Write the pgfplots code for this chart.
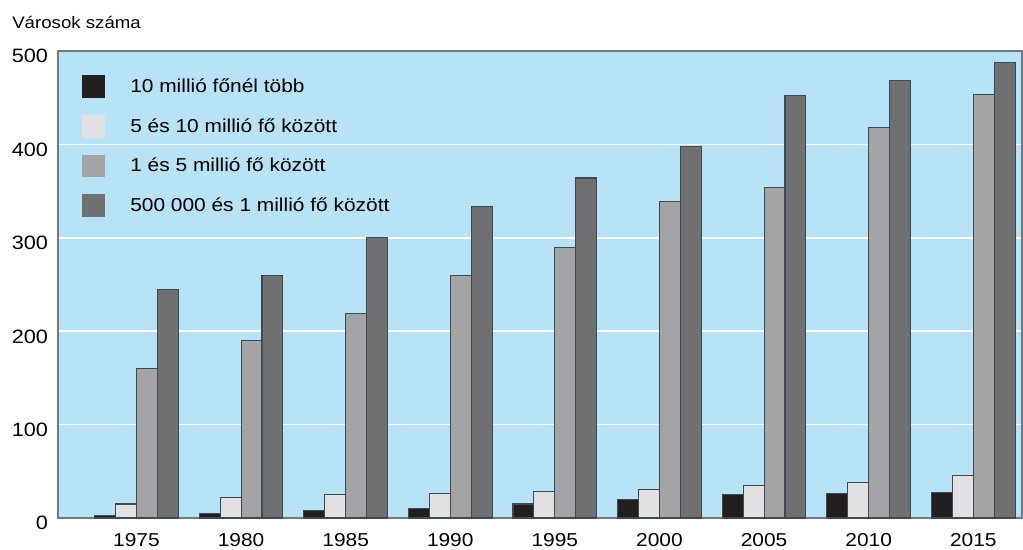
\documentclass[border=0pt]{standalone}
\usepackage{pgfplots}
\pgfplotsset{compat=1.18}
\usepackage{fontspec}
\setmainfont[FakeStretch=1.12]{Liberation Sans}
\usetikzlibrary{calc}

\definecolor{bgblue}{RGB}{184,226,246}
\definecolor{cblack}{RGB}{35,31,32}
\definecolor{cwhite}{RGB}{226,224,226}
\definecolor{clgray}{RGB}{164,164,167}
\definecolor{cdgray}{RGB}{112,112,115}
\definecolor{edge}{RGB}{60,74,84}
\definecolor{frame}{RGB}{110,122,130}

\begin{document}
\begin{tikzpicture}
\begin{axis}[
    name=ax,
    scale only axis,
    width=723pt, height=350.25pt,
    xmin=1971.25, xmax=2017.33,
    ymin=0, ymax=500,
    axis background/.style={fill=bgblue},
    axis line style={frame, line width=0.8pt},
    xtick={1975,1980,...,2015},
    ytick={0,100,...,500},
    major tick length=0pt,
    ymajorgrids,
    grid style={white, line width=1.2pt},
    xticklabel style={font=\fontsize{14}{16}\selectfont, yshift=-8pt},
    yticklabel style={font=\fontsize{14.5}{16}\selectfont, yshift=-4pt, xshift=-4pt},
    /pgf/number format/assume math mode=true,
    /pgf/number format/1000 sep={},
    ybar, bar width=1,
    legend style={at={(0,1)}, anchor=north west, xshift=18pt, yshift=-18pt,
        draw=none, fill=none, inner sep=0pt, row sep=12.8pt,
        font=\fontsize{14}{16}\selectfont,
        nodes={inner sep=0pt, anchor=west},
        /tikz/every odd column/.append style={column sep=19pt}},
    legend cell align=left,
    legend image code/.code={\fill[#1, draw=none] (0pt,-8.5pt) rectangle (17pt,8.5pt);},
    clip=false,
]
\addplot[fill=cblack, draw=edge, line width=0.8pt, bar shift=-1.5] coordinates {
(1975,3) (1980,5) (1985,8) (1990,10) (1995,15) (2000,20) (2005,25) (2010,26) (2015,27)};
\addplot[fill=cwhite, draw=edge, line width=0.8pt, bar shift=-0.5] coordinates {
(1975,15) (1980,22) (1985,25) (1990,26) (1995,28) (2000,30) (2005,35) (2010,38) (2015,45)};
\addplot[fill=clgray, draw=edge, line width=0.8pt, bar shift=0.5] coordinates {
(1975,160) (1980,190) (1985,219) (1990,260) (1995,290) (2000,339) (2005,354) (2010,418) (2015,453)};
\addplot[fill=cdgray, draw=edge, line width=0.8pt, bar shift=1.5] coordinates {
(1975,245) (1980,260) (1985,300) (1990,334) (1995,364) (2000,398) (2005,452) (2010,468) (2015,488)};
\legend{10 millió főnél több, 5 és 10 millió fő között, 1 és 5 millió fő között, 500 000 és 1 millió fő között}
\node[anchor=south west, inner sep=0pt, font=\fontsize{12.5}{14}\selectfont]
    at ($(rel axis cs:0,1)+(-34.5pt,16.8pt)$) {Városok száma};
\end{axis}
\pgfresetboundingbox
\path ($(ax.south west)+(-43.5pt,-24pt)$) rectangle ($(ax.north east)+(0.75pt,38.25pt)$);
\end{tikzpicture}
\end{document}
